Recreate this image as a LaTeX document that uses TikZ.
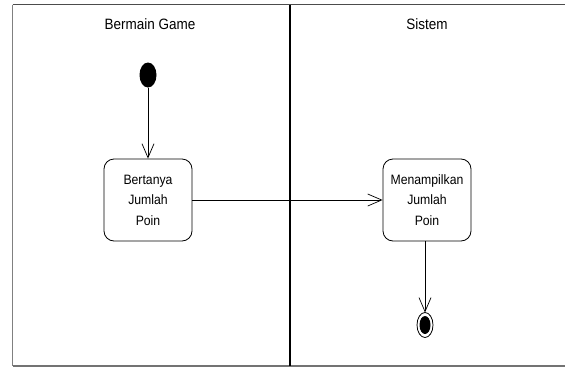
\documentclass[tikz,border=0pt]{standalone}
\usepackage{fontspec}
\setmainfont{Liberation Sans}
\newfontfamily\lanefont[FakeStretch=0.9]{Liberation Sans}
\usetikzlibrary{arrows.meta}
\begin{document}
\begin{tikzpicture}[x=1pt,y=-1pt,
  lane/.style={font=\lanefont\fontsize{15}{17}\selectfont},
  activity/.style={draw, line width=0.8pt, rounded corners=10pt, minimum width=88pt,
    minimum height=82pt, align=center, inner sep=2pt,
    font=\lanefont\fontsize{13.6}{20.5}\selectfont},
  flow/.style={draw, line width=0.7pt,
    -{Straight Barb[length=14pt,width=12pt,line width=0.7pt]}},
  point/.style={inner sep=0pt, minimum size=0pt},
]
\useasboundingbox (0,0) rectangle (565,367);
\fill[white] (0,0) rectangle (565,367);

% swimlane frame
\draw[line width=1.6pt, black!70] (12.5,4.5) -- (565,4.5);
\draw[line width=1.6pt, black!50] (12.5,4.5) -- (12.5,366);
\draw[line width=1.6pt, black!55] (12.5,366) -- (565,366);
\draw[line width=1.5pt, black] (290,4.5) -- (290,366);

% lane titles
\node[lane] (laneA) at (150,24) {Bermain Game};
\node[lane] (laneB) at (427,24) {Sistem};

% initial node
\node[point] (start) at (148,75) {};
\fill[black] (start) ellipse [x radius=8.5, y radius=12.5];
\coordinate (startbottom) at (148,87.5);

% activities
\node[activity] (ask) at (148,200) {Bertanya\\Jumlah\\Poin};
\node[activity] (show) at (427,200) {Menampilkan\\Jumlah\\Poin};

% final node
\node[point] (final) at (425,325) {};
\draw[line width=0.8pt, fill=white] (final) ellipse [x radius=8, y radius=12.5];
\fill[black] (final) ellipse [x radius=5.5, y radius=9];
\coordinate (finaltop) at (425,312.5);

% control flows
\draw[flow] (startbottom) -- (ask.north);
\draw[flow] (ask.east) -- (show.west);
\draw[flow] (show.south -| finaltop) -- (finaltop);
\end{tikzpicture}
\end{document}
